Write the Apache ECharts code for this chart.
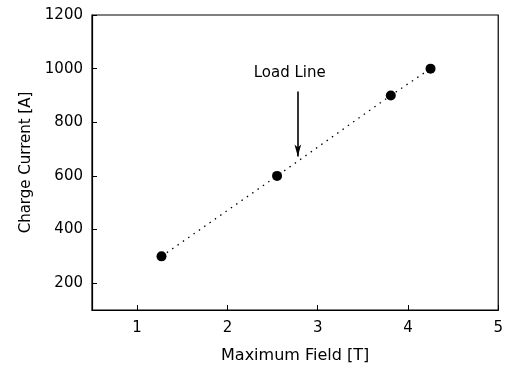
<!DOCTYPE html>
<html>
<head>
<meta charset="utf-8">
<script src="https://cdn.jsdelivr.net/npm/echarts@6/dist/echarts.min.js"></script>
<style>html,body{margin:0;padding:0;background:#fff}#c{width:506px;height:369px}</style>
</head>
<body>
<div id="c"></div>
<script>
const fieldT = [1.27, 2.55, 3.81, 4.25];
const currentA = [300, 600, 900, 1000];
const xTicks = [1, 2, 3, 4, 5];
const yTicks = [200, 400, 600, 800, 1000, 1200];
const arrowFrom = [2.78, 915];
const arrowTo = [2.78, 672];
const labelAt = [2.69, 985];
const labelText = 'Load Line';

const F = '"DejaVu Sans", sans-serif';
const chart = echarts.init(document.getElementById('c'), null, {renderer: 'canvas'});
chart.setOption({
  animation: false,
  backgroundColor: '#fff',
  grid: {left: 92, right: 6, top: 15, bottom: 59, show: true, borderColor: '#000', borderWidth: 1.2, backgroundColor: 'transparent'},
  xAxis: {
    type: 'value', min: 0.5, max: 5,
    name: 'Maximum Field [T]', nameLocation: 'middle', nameGap: 38,
    nameTextStyle: {fontFamily: F, fontSize: 16, color: '#000'},
    axisLine: {show: true, onZero: false, lineStyle: {color: '#000', width: 1.2}},
    axisTick: {show: true, inside: true, length: 5, customValues: xTicks, lineStyle: {color: '#000'}},
    axisLabel: {customValues: xTicks, margin: 11, fontFamily: F, fontSize: 15, color: '#000', formatter: v => String(v)},
    splitLine: {show: false}
  },
  yAxis: {
    type: 'value', min: 100, max: 1200,
    name: 'Charge Current [A]', nameLocation: 'middle', nameGap: 52,
    nameTextStyle: {fontFamily: F, fontSize: 15, color: '#000'},
    axisLine: {show: true, onZero: false, lineStyle: {color: '#000', width: 1.2}},
    axisTick: {show: true, inside: true, length: 5, customValues: yTicks, lineStyle: {color: '#000'}},
    axisLabel: {customValues: yTicks, margin: 9, fontFamily: F, fontSize: 15, color: '#000', formatter: v => String(v)},
    splitLine: {show: false}
  },
  series: [{
    type: 'line',
    data: fieldT.map((x, i) => [x, currentA[i]]),
    symbol: 'circle', symbolSize: 10,
    itemStyle: {color: '#000'},
    lineStyle: {color: '#000', width: 1.3, type: [1.5, 5]},
    markLine: {
      silent: true, symbol: ['none', 'arrow'], symbolSize: [5, 12],
      lineStyle: {color: '#000', width: 1.6, type: 'solid'},
      label: {show: false},
      data: [[{coord: arrowFrom}, {coord: arrowTo}]]
    },
    markPoint: {
      silent: true, symbol: 'circle', symbolSize: 0,
      label: {show: true, formatter: labelText, fontFamily: F, fontSize: 15, color: '#000', position: 'inside'},
      data: [{coord: labelAt}]
    }
  }]
});
</script>
</body>
</html>
